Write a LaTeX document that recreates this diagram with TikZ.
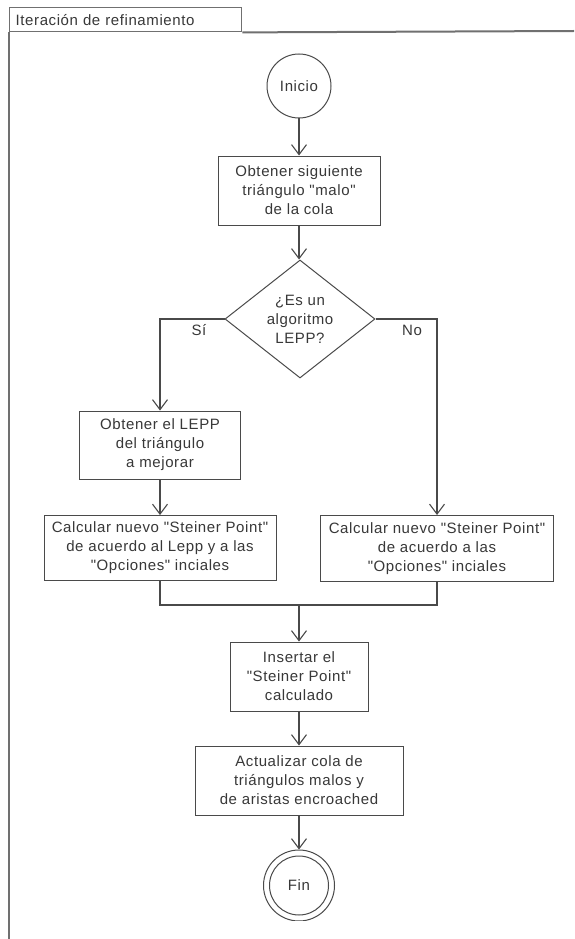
\documentclass[tikz,border=0pt]{standalone}
\usepackage{fontspec}
\setmainfont{Liberation Sans}[Ligatures=TeXOff, LetterSpace=4]
\usetikzlibrary{arrows.meta,shapes.geometric}
\definecolor{inkc}{HTML}{4A4A4A}
\definecolor{txtc}{HTML}{383838}
\definecolor{framec}{HTML}{707070}
\begin{document}
\begin{tikzpicture}[x=1pt,y=-1pt,
  every node/.style={font=\fontsize{15}{19}\selectfont, text=txtc, inner sep=0pt},
  proc/.style={draw=inkc, line width=1pt, rectangle, align=center},
  terminal/.style={draw=inkc, line width=1pt, circle},
  decision/.style={draw=inkc, line width=1pt, diamond, align=center},
  link/.style={draw=inkc, line width=1.1pt},
  arr/.style={link, -{Straight Barb[length=10pt,width=15pt,line width=1.1pt]}}
]
\useasboundingbox (0,0) rectangle (574,939);
\fill[white] (0,0) rectangle (574,939);

% swimlane frame with its title tab
\node[draw=framec, line width=1.4pt, anchor=north west, minimum width=232pt,
      minimum height=24pt, inner xsep=6pt, text width=220pt, align=left]
      (tab) at (9,7) {Iteración de refinamiento};
\draw[framec, line width=2pt] (574,31) -- (tab.south east);
\draw[framec, line width=2pt] (tab.south west) -- (9,939);

% flow steps
\node[terminal, minimum size=64pt] (start) at (299,86) {Inicio};
\node[proc, minimum width=162pt, minimum height=69pt] (get) at (299,190.5)
  {Obtener siguiente\\triángulo "malo"\\de la cola};
\node[decision, minimum width=150pt, minimum height=118pt] (dec) at (300,319)
  {¿Es un\\algoritmo\\LEPP?};
\node[proc, minimum width=161pt, minimum height=68pt] (lepp) at (160,445)
  {Obtener el LEPP\\del triángulo\\a mejorar};
\node[proc, minimum width=232pt, minimum height=65pt] (calcL) at (160,548)
  {Calcular nuevo "Steiner Point"\\de acuerdo al Lepp y a las\\"Opciones" inciales};
\node[proc, minimum width=233pt, minimum height=66pt] (calcR) at (437,548.5)
  {Calcular nuevo "Steiner Point"\\de acuerdo a las\\"Opciones" inciales};
\coordinate (m) at (299,605);
\node[proc, minimum width=138pt, minimum height=69pt] (ins) at (299,676.5)
  {Insertar el\\"Steiner Point"\\calculado};
\node[proc, minimum width=208pt, minimum height=69pt] (upd) at (299,780.5)
  {Actualizar cola de\\triángulos malos y\\de aristas encroached};

% branch labels
\node (si) at (199,330) {Sí};
\node (no) at (412,330) {No};

% connectors
\draw[arr] (start) -- (get);
\draw[arr] (get.south) -- (get.south |- dec.north);
\draw[arr] (dec.west) -| (lepp.north);
\draw[arr] (dec.east) -| (calcR.north);
\draw[arr] (lepp) -- (calcL);
\draw[link] (calcL.south) |- (m) -| (calcR.south);
\draw[arr] (m) -- (m |- ins.north);
\draw[arr] (ins) -- (upd);

% end state, cut off at the bottom of the lane
\begin{scope}
  \clip (0,0) rectangle (574,920);
  \node[terminal, minimum size=71pt] (fin) at (299,885.5) {Fin};
  \draw[inkc, line width=1pt] (fin.center) circle (29.5pt);
\end{scope}
\draw[arr] (upd) -- (fin);
\end{tikzpicture}
\end{document}
